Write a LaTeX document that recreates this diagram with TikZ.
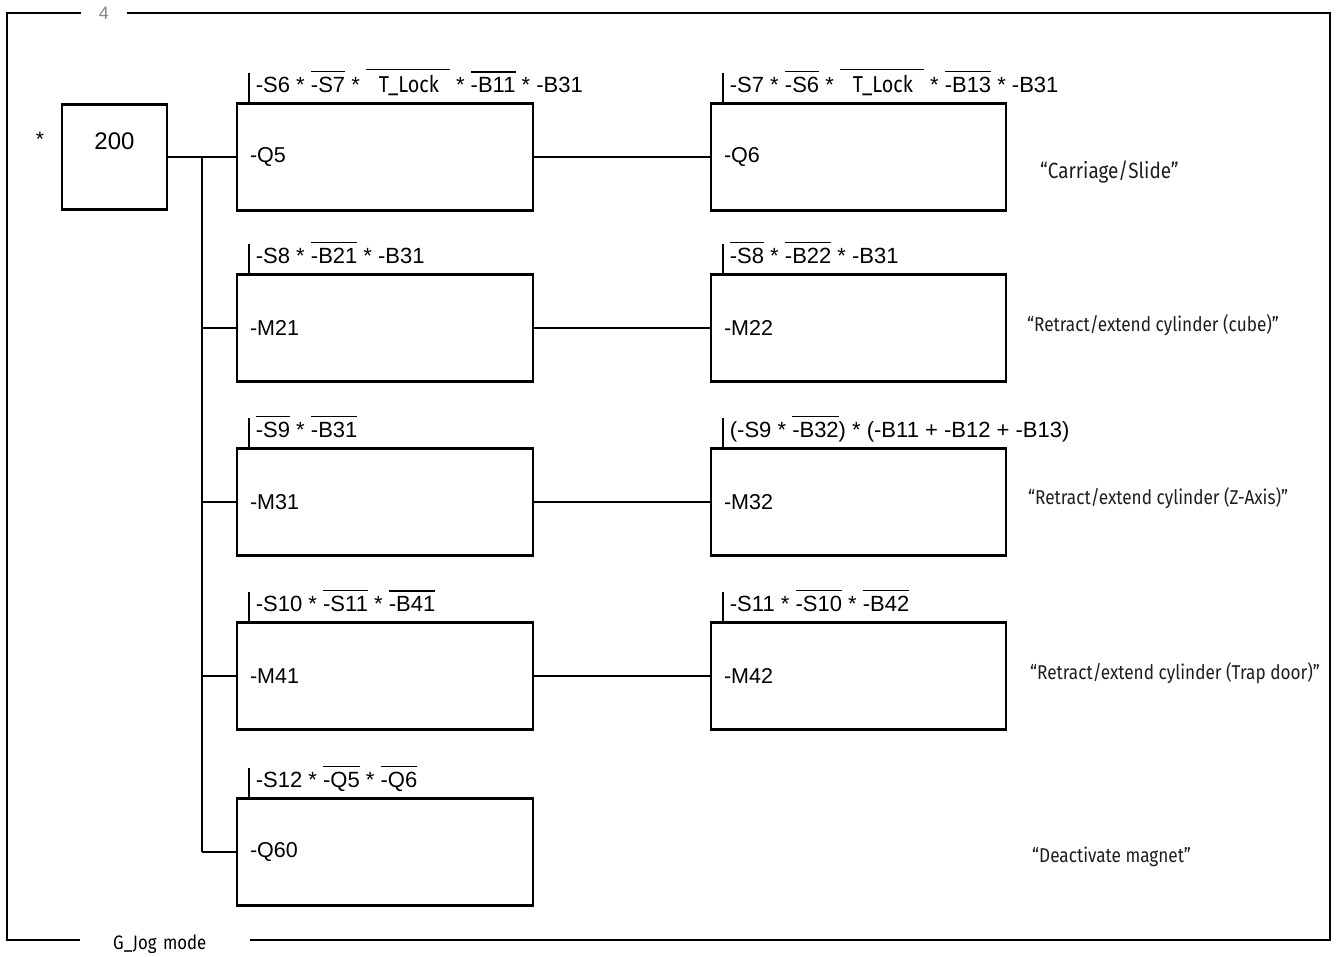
\documentclass[tikz,border=0pt]{standalone}
\usepackage{fontspec}
\setmainfont{Liberation Sans}
\newfontfamily\dinfont[FakeStretch=0.86]{Fira Sans}

% negated signal: bar over the operand
\newcommand{\inv}[1]{\vbox{\hrule height 1.5pt\kern 4.5pt\hbox{#1}}}
\newcommand{\tlock}{\inv{\dinfont\fontsize{23}{26}\selectfont\hspace{13pt}T\_Lock\hspace{11pt}}}

\begin{document}
\begin{tikzpicture}[x=1pt,y=-1pt,
  stepbox/.style={draw,line width=2.6pt,minimum width=296pt,minimum height=107pt,
    text width=270pt,inner xsep=13pt,align=left,font=\fontsize{21.5}{24}\selectfont},
  initbox/.style={draw,line width=2.6pt,minimum size=105pt,inner sep=0pt,
    font=\fontsize{24}{28}\selectfont},
  cond/.style={anchor=base west,inner sep=0pt,font=\fontsize{22}{25}\selectfont},
  note/.style={anchor=west,inner sep=0pt,text=Cnote,font=\dinfont\fontsize{20}{23}\selectfont},
  link/.style={line width=1.7pt},
  tick/.style={line width=2.2pt},
  frame/.style={line width=2pt}]

% Page: 1338 x 956, origin top left, y grows downwards (1 px = 1 pt)
\useasboundingbox (0,0) rectangle (1338,956);

\definecolor{Cnote}{RGB}{30,30,30}    % comments right of the steps
\definecolor{Cpage}{RGB}{135,135,135} % sheet number

% ── Sheet frame ───────────────────────────────────────────────────────────────
\node[text=Cpage,font=\fontsize{18}{20}\selectfont,inner xsep=18pt,inner ysep=0pt]
  (pageno) at (104,13) {4};
\node[anchor=west,inner xsep=33pt,inner ysep=0pt,text width=104pt,align=left,
  font=\dinfont\fontsize{19.5}{22}\selectfont] (jog) at (80,944) {G\_Jog mode};
\coordinate (botleft)  at (7,940);
\coordinate (botright) at (1330,940);
\draw[frame] (pageno.west) -- (7,13) -- (botleft) -- (botleft -| jog.west);
\draw[frame] (pageno.east) -- (1330,13) -- (botright) -- (botright -| jog.east);

% ── Initial step ──────────────────────────────────────────────────────────────
\node[initbox] (init) at (114.5,157) {\raisebox{31pt}{200}};
\node[font=\fontsize{21}{24}\selectfont] (star) at (40,139) {*};

% ── Step boxes ────────────────────────────────────────────────────────────────
\foreach \name/\lbl/\y in {Q5/-Q5/157, M21/-M21/328, M31/-M31/502, M41/-M41/676, Q60/-Q60/852}
  \node[stepbox] (\name) at (385,\y) {\lbl};

\foreach \name/\lbl/\y in {Q6/-Q6/157, M22/-M22/328, M32/-M32/502, M42/-M42/676}
  \node[stepbox,minimum width=295pt,text width=269pt] (\name) at (858.5,\y) {\lbl};

% ── Connections ───────────────────────────────────────────────────────────────
\coordinate (bus) at (202,157);
\draw[link] (init.east) -- (Q5.west);
\draw[link] (bus) -- (bus |- Q60.west);
\foreach \name in {M21, M31, M41, Q60}
  \draw[link] (bus |- \name.west) -- (\name.west);

\foreach \a/\b in {Q5/Q6, M21/M22, M31/M32, M41/M42}
  \draw[link] (\a) -- (\b);

% ── Step conditions (tick + expression above each box) ────────────────────────
\foreach \name/\txt in {
    Q5/{-S6 * \inv{-S7} * \tlock{} * \inv{-B11} * -B31},
    Q6/{-S7 * \inv{-S6} * \tlock{} * \inv{-B13} * -B31},
    M21/{-S8 * \inv{-B21} * -B31},
    M22/{\inv{-S8} * \inv{-B22} * -B31},
    M31/{\inv{-S9} * \inv{-B31}},
    M32/{(-S9 * \inv{-B32}) * (-B11 + -B12 + -B13)},
    M41/{-S10 * \inv{-S11} * \inv{-B41}},
    M42/{-S11 * \inv{-S10} * \inv{-B42}},
    Q60/{-S12 * \inv{-Q5} * \inv{-Q6}}}
  {
    \draw[tick] ([xshift=13pt]\name.north west) -- ++(0,-29);
    \node[cond] (c\name) at ([shift={(20,-10)}]\name.north west) {\txt};
  }

% ── Comments ──────────────────────────────────────────────────────────────────
\node[note,font=\dinfont\fontsize{22}{25}\selectfont] (nQ6) at (1040,172) {“Carriage/Slide”};
\node[note] (nM22) at (1027,325) {“Retract/extend cylinder (cube)”};
\node[note] (nM32) at (1028,498) {“Retract/extend cylinder (Z-Axis)”};
\node[note] (nM42) at (1030,673) {“Retract/extend cylinder (Trap door)”};
\node[note] (nQ60) at (1032,857) {“Deactivate magnet”};

\end{tikzpicture}
\end{document}
